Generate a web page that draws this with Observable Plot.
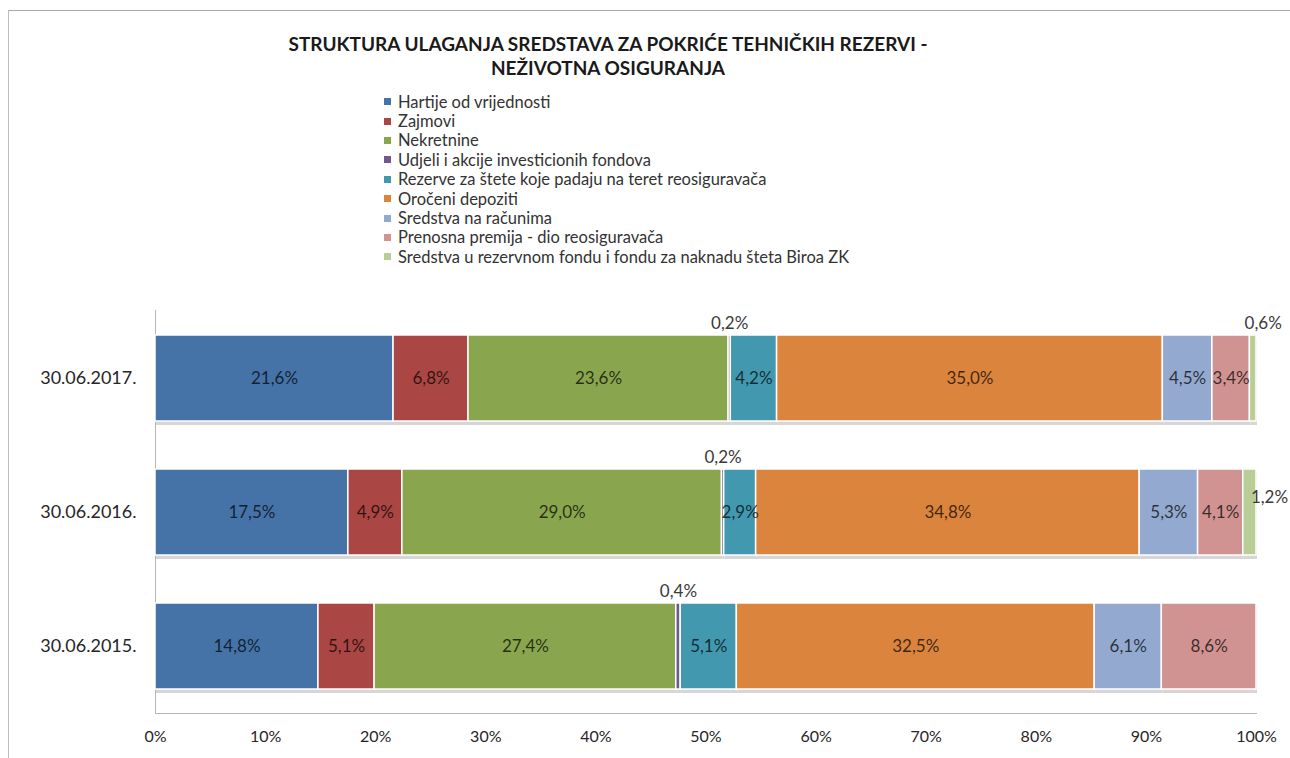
<!DOCTYPE html>
<html><head><meta charset="utf-8">
<script src="https://cdn.jsdelivr.net/npm/d3@7"></script>
<script src="https://cdn.jsdelivr.net/npm/@observablehq/plot@0.6"></script>
<style>
body{margin:0;background:#fff;font-family:Lato,"Open Sans",sans-serif;}
#wrap{position:relative;width:1290px;height:758px;overflow:hidden;background:#fff;}
#border{position:absolute;left:8px;top:10px;width:1300px;height:800px;border-left:1px solid #bdbdbd;border-top:1px solid #a8a8a8;pointer-events:none;}
#title{position:absolute;left:0;width:1216px;top:32px;text-align:center;font-weight:700;font-size:19px;line-height:24px;color:#1a1a1a;}
#legend{position:absolute;left:384px;top:92px;font-size:16.5px;color:#333;}
.item{height:19.4px;display:flex;align-items:center;white-space:nowrap;}
.sw{width:7px;height:7px;margin-right:7px;flex:none;}
#chart{position:absolute;left:0;top:290px;}
</style></head>
<body>
<div id="wrap">
  <div id="title">STRUKTURA ULAGANJA SREDSTAVA ZA POKRIĆE TEHNIČKIH REZERVI -<br>NEŽIVOTNA OSIGURANJA</div>
  <div id="legend"></div>
  <div id="chart"></div>
  <div id="border"></div>
</div>
<script>
const dates = ["30.06.2017.", "30.06.2016.", "30.06.2015."];
const series = [
  "Hartije od vrijednosti",
  "Zajmovi",
  "Nekretnine",
  "Udjeli i akcije investicionih fondova",
  "Rezerve za štete koje padaju na teret reosiguravača",
  "Oročeni depoziti",
  "Sredstva na računima",
  "Prenosna premija - dio reosiguravača",
  "Sredstva u rezervnom fondu i fondu za naknadu šteta Biroa ZK"
];
const colors = ["#4572A7", "#AA4643", "#89A54E", "#71588F", "#4198AF", "#DB843D", "#93A9CF", "#D19392", "#B9CD96"];
const v2017 = [21.6, 6.8, 23.6, 0.2, 4.2, 35.0, 4.5, 3.4, 0.6];
const v2016 = [17.5, 4.9, 29.0, 0.2, 2.9, 34.8, 5.3, 4.1, 1.2];
const v2015 = [14.8, 5.1, 27.4, 0.4, 5.1, 32.5, 6.1, 8.6, 0];
const xTicks = [0, 0.1, 0.2, 0.3, 0.4, 0.5, 0.6, 0.7, 0.8, 0.9, 1];

const valuesByDate = [v2017, v2016, v2015];
const rows = dates.flatMap((d, i) =>
  valuesByDate[i].map((v, j) => ({date: d, series: series[j], value: v, idx: j}))
).filter(r => r.value > 0);

const fmt = v => v.toFixed(1).replace(".", ",") + "%";
const lastIdx = series.length - 1;

// legend
const legend = document.getElementById("legend");
series.forEach((s, i) => {
  const it = document.createElement("div");
  it.className = "item";
  it.innerHTML = `<span class="sw" style="background:${colors[i]}"></span><span>${s}</span>`;
  legend.appendChild(it);
});

const stackOpts = {x: "value", y: "date", offset: "normalize"};
const bw = 86;
const inLbl = {fontSize: 17, fill: "black", fillOpacity: 0.72};
const outLbl = {fontSize: 17, fill: "#3a3a3a"};

const chart = Plot.plot({
  width: 1290,
  height: 468,
  marginLeft: 155,
  marginRight: 34,
  marginTop: 20,
  marginBottom: 45,
  style: {fontFamily: "Lato, 'Open Sans', sans-serif", color: "#262626", background: "none"},
  x: {domain: [0, 1], ticks: xTicks, tickFormat: d => Math.round(d * 100) + "%"},
  y: {domain: dates, paddingInner: 0.36, paddingOuter: 0.178},
  color: {domain: series, range: colors},
  marks: [
    Plot.frame({anchor: "left", stroke: "#b5b5b5"}),
    Plot.frame({anchor: "bottom", stroke: "#b5b5b5"}),
    Plot.barX(rows, Plot.stackX({...stackOpts, fill: "#d6d6d6", dy: 4, dx: 1})),
    Plot.barX(rows, Plot.stackX({...stackOpts, fill: "series", stroke: "white", strokeWidth: 1.5})),
    // labels inside segments
    Plot.text(rows, Plot.stackX({...stackOpts, ...inLbl, text: d => d.value >= 2 ? fmt(d.value) : ""})),
    // tiny values above the bar
    Plot.text(rows, Plot.stackX({...stackOpts, ...outLbl, text: d => d.value < 1 && d.idx !== lastIdx ? fmt(d.value) : "", dy: -(bw / 2 + 12)})),
    Plot.text(rows, Plot.stackX({...stackOpts, ...outLbl, text: d => d.value < 1 && d.idx === lastIdx ? fmt(d.value) : "", dx: 10, dy: -(bw / 2 + 12)})),
    // small values beside the bar end
    Plot.text(rows, Plot.stackX({...stackOpts, ...outLbl, text: d => d.value >= 1 && d.value < 2 ? fmt(d.value) : "", textAnchor: "start", dx: 1, dy: -15})),
    Plot.axisY({tickSize: 0, tickPadding: 19, fontSize: 18, label: null}),
    Plot.axisX({ticks: xTicks, tickFormat: d => Math.round(d * 100) + "%", tickSize: 0, tickPadding: 17, fontSize: 16, label: null})
  ]
});
document.getElementById("chart").appendChild(chart);
</script>
</body></html>
